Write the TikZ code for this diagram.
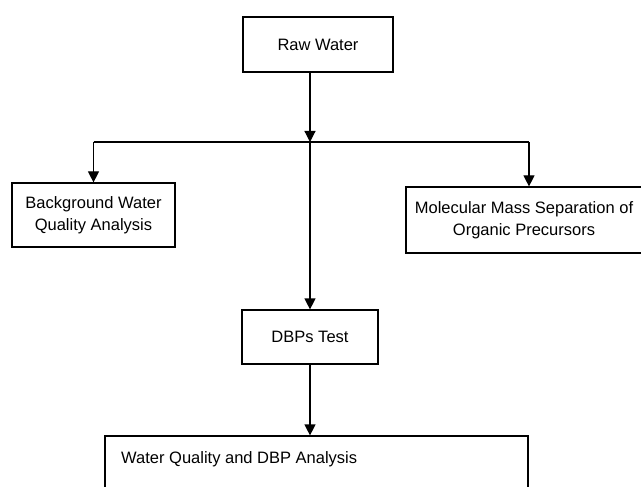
\documentclass[tikz,border=0pt]{standalone}
\usepackage{fontspec}
\setmainfont{Liberation Sans}
\usetikzlibrary{arrows.meta}
\begin{document}
\begin{tikzpicture}[x=1pt,y=-1pt,
  box/.style={draw, line width=1.2pt, inner sep=0pt, align=center,
    font=\fontsize{16.5}{22}\selectfont},
  link/.style={line width=1.2pt},
  arr/.style={link, -{Triangle[width=11pt,length=11pt]}},
  lbl/.style={inner sep=0pt, font=\fontsize{16.5}{22}\selectfont}]
\useasboundingbox (0,0) rectangle (641,487);
\node[box, minimum width=150pt, minimum height=55pt] (raw) at (318,44.5) {Raw Water};
\node[box, minimum width=163pt, minimum height=64pt] (bg) at (93.5,215) {Background Water\\Quality Analysis};
\node[box, minimum width=236pt, minimum height=66pt] (mm) at (524,220) {Molecular Mass Separation of\\Organic Precursors};
\node[box, minimum width=136pt, minimum height=54pt] (dbps) at (310,337) {DBPs Test};
\node[box, minimum width=423pt, minimum height=84pt] (wq) at (316.5,478) {};
\node[lbl, anchor=west] (wqt) at (121,459) {Water Quality and DBP Analysis};
\coordinate (j) at (310,142);
\coordinate (jl) at (93.5,142);
\coordinate (jr) at (529,142);
\draw[arr] (raw.south -| j) -- (j);
\draw[link] (jl) -- (jr);
\draw[arr] (jl) -- (bg.north);
\draw[arr] (jr) -- (jr |- mm.north);
\draw[arr] (j) -- (dbps.north);
\draw[arr] (dbps.south) -- (dbps.south |- wq.north);
\end{tikzpicture}
\end{document}
